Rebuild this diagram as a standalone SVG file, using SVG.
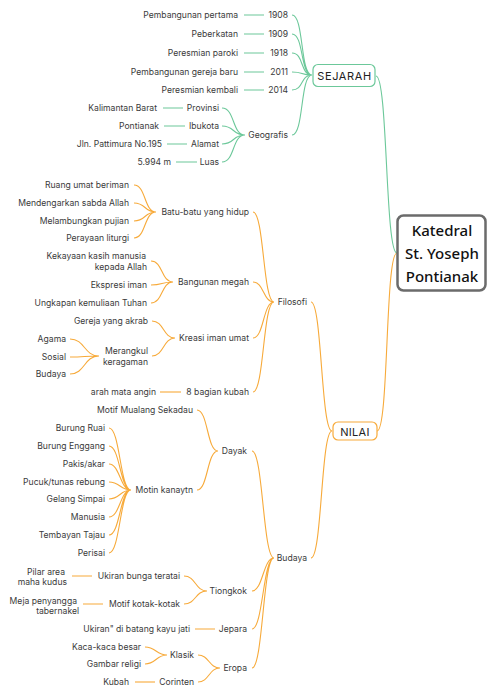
<svg xmlns="http://www.w3.org/2000/svg" width="487" height="691" viewBox="0 0 487 691">
<style>
text{font-family:Inter,"Noto Sans",sans-serif;font-size:8.6px;fill:#3a3a3a;dominant-baseline:central}
.l{text-anchor:end}
.g{fill:none;stroke:#6cc89a;stroke-width:1.1}
.o{fill:none;stroke:#f7aa3a;stroke-width:1.1}
.big{font-family:"Noto Sans",sans-serif;font-size:15px;font-weight:500;fill:#111;text-anchor:middle;dominant-baseline:auto}
.mid{font-size:11px;text-anchor:middle;fill:#222;letter-spacing:0.6px}
</style>
<rect width="487" height="691" fill="#fff"/>
<g id="connectors">
<path class="g" d="M376 76C388 76 385 253 397 253"/>
<path class="o" d="M377 431C389 431 385 253 397 253"/>
<path class="g" d="M292 15C304 15 300 75 312 75M292 34C304 34 300 75 312 75M292 53C304 53 300 75 312 75M292 72C304 72 300 75 312 75M292 90C304 90 300 75 312 75M292 135C304 135 300 75 312 75"/>
<path class="g" d="M244 15H264M244 34H264M244 53H264M244 72H264M244 90H264"/>
<path class="g" d="M222 108C235 108 232 135 245 135M222 126C235 126 232 135 245 135M222 144C235 144 232 135 245 135M222 162C235 162 232 135 245 135"/>
<path class="g" d="M163 108H183M164 126H185M167 144H187M176 162H197"/>
<path class="o" d="M311 302C322 302 321 431 332 431M311 558C322 558 321 431 332 431"/>
<path class="o" d="M253 212C264 212 263 302 274 302M253 282C264 282 263 302 274 302M253 338C264 338 263 302 274 302M253 392C264 392 263 302 274 302"/>
<path class="o" d="M134 185C146 185 144 212 156 212M134 203C146 203 144 212 156 212M134 221C146 221 144 212 156 212M134 238C146 238 144 212 156 212"/>
<path class="o" d="M151 261C163 261 161 282 173 282M151 285C163 285 161 282 173 282M151 303C163 303 161 282 173 282"/>
<path class="o" d="M152 321C164 321 163 338 175 338M152 356C164 356 163 338 175 338"/>
<path class="o" d="M70 339C85 339 84 356 99 356M70 357C85 357 84 356 99 356M70 374C85 374 84 356 99 356"/>
<path class="o" d="M160 392H181"/>
<path class="o" d="M252 451C263 451 263 558 274 558M252 591C263 591 263 558 274 558M252 629C263 629 263 558 274 558M252 668C263 668 263 558 274 558"/>
<path class="o" d="M197 410C208 410 207 451 218 451M197 490C208 490 207 451 218 451"/>
<path class="o" d="M109 428C120 428 120 490 131 490M109 446C120 446 120 490 131 490M109 464C120 464 120 490 131 490M109 482C120 482 120 490 131 490M109 499C120 499 120 490 131 490M109 517C120 517 120 490 131 490M109 535C120 535 120 490 131 490M109 553C120 553 120 490 131 490"/>
<path class="o" d="M184 576C196 576 195 591 207 591M184 604C196 604 195 591 207 591"/>
<path class="o" d="M72 576H92M83 604H103M195 629H215"/>
<path class="o" d="M198 655C209 655 209 668 220 668M198 682C209 682 209 668 220 668"/>
<path class="o" d="M145 647C156 647 156 655 167 655M145 664C156 664 156 655 167 655"/>
<path class="o" d="M135 682H155"/>
</g>
<g id="central"><rect x="397.5" y="215.5" width="88" height="75" rx="6" fill="#fff" stroke="#6b6b6b" stroke-width="2.5"/><text class="big" x="442" y="236">Katedral</text><text class="big" x="442" y="259">St. Yoseph</text><text class="big" x="442" y="282">Pontianak</text></g>
<g id="sejarah"><rect x="313" y="64.5" width="62" height="22" rx="5" fill="#fff" stroke="#6cc89a" stroke-width="1.2"/><text class="mid" x="344.5" y="76">SEJARAH</text></g>
<g id="nilai"><rect x="333" y="422" width="44" height="18" rx="5" fill="#fff" stroke="#f7aa3a" stroke-width="1.2"/><text class="mid" x="355" y="431.5" style="letter-spacing:0.3px">NILAI</text></g>
<g id="n1908"><text class="l" x="288" y="15">1908</text></g>
<g id="n1909"><text class="l" x="288" y="34">1909</text></g>
<g id="n1918"><text class="l" x="288" y="53">1918</text></g>
<g id="n2011"><text class="l" x="288" y="72">2011</text></g>
<g id="n2014"><text class="l" x="288" y="90">2014</text></g>
<g id="geografis"><text class="l" x="288" y="135">Geografis</text></g>
<g id="pembangunan-pertama"><text class="l" x="238" y="15">Pembangunan pertama</text></g>
<g id="peberkatan"><text class="l" x="238" y="34">Peberkatan</text></g>
<g id="peresmian-paroki"><text class="l" x="238" y="53">Peresmian paroki</text></g>
<g id="pembangunan-gereja"><text class="l" x="238" y="72">Pembangunan gereja baru</text></g>
<g id="peresmian-kembali"><text class="l" x="238" y="90">Peresmian kembali</text></g>
<g id="provinsi"><text class="l" x="219" y="108">Provinsi</text></g>
<g id="ibukota"><text class="l" x="219" y="126">Ibukota</text></g>
<g id="alamat"><text class="l" x="219" y="144">Alamat</text></g>
<g id="luas"><text class="l" x="219" y="162">Luas</text></g>
<g id="kalbar"><text class="l" x="157" y="108">Kalimantan Barat</text></g>
<g id="pontianak"><text class="l" x="159" y="126">Pontianak</text></g>
<g id="jln"><text class="l" x="162" y="144">Jln. Pattimura No.195</text></g>
<g id="luas-val"><text class="l" x="171" y="162">5.994 m</text></g>
<g id="filosofi"><text class="l" x="307" y="302">Filosofi</text></g>
<g id="budaya"><text class="l" x="307" y="558">Budaya</text></g>
<g id="batu"><text class="l" x="249" y="212">Batu-batu yang hidup</text></g>
<g id="ruang"><text class="l" x="129" y="185">Ruang umat beriman</text></g>
<g id="mendengarkan"><text class="l" x="129" y="203">Mendengarkan sabda Allah</text></g>
<g id="melambungkan"><text class="l" x="129" y="221">Melambungkan pujian</text></g>
<g id="perayaan"><text class="l" x="129" y="238">Perayaan liturgi</text></g>
<g id="bangunan"><text class="l" x="249" y="282">Bangunan megah</text></g>
<g id="kekayaan"><text class="l" x="146" y="256">Kekayaan kasih manusia</text><text class="l" x="147" y="267">kepada Allah</text></g>
<g id="ekspresi"><text class="l" x="147" y="285">Ekspresi iman</text></g>
<g id="ungkapan"><text class="l" x="147" y="303">Ungkapan kemuliaan Tuhan</text></g>
<g id="kreasi"><text class="l" x="249" y="338">Kreasi iman umat</text></g>
<g id="gereja"><text class="l" x="148" y="321">Gereja yang akrab</text></g>
<g id="merangkul"><text class="l" x="148" y="351">Merangkul</text><text class="l" x="148" y="362">keragaman</text></g>
<g id="agama"><text class="l" x="66" y="339">Agama</text></g>
<g id="sosial"><text class="l" x="66" y="357">Sosial</text></g>
<g id="budaya2"><text class="l" x="66" y="374">Budaya</text></g>
<g id="bagian"><text class="l" x="249" y="392">8 bagian kubah</text></g>
<g id="arah"><text class="l" x="156" y="392">arah mata angin</text></g>
<g id="dayak"><text class="l" x="247" y="451">Dayak</text></g>
<g id="mualang"><text class="l" x="193" y="410">Motif Mualang Sekadau</text></g>
<g id="motin"><text class="l" x="193" y="490">Motin kanaytn</text></g>
<g id="ruai"><text class="l" x="105" y="428">Burung Ruai</text></g>
<g id="enggang"><text class="l" x="105" y="446">Burung Enggang</text></g>
<g id="pakis"><text class="l" x="105" y="464">Pakis/akar</text></g>
<g id="pucuk"><text class="l" x="105" y="482">Pucuk/tunas rebung</text></g>
<g id="gelang"><text class="l" x="105" y="499">Gelang Simpai</text></g>
<g id="manusia"><text class="l" x="105" y="517">Manusia</text></g>
<g id="tembayan"><text class="l" x="105" y="535">Tembayan Tajau</text></g>
<g id="perisai"><text class="l" x="105" y="553">Perisai</text></g>
<g id="tiongkok"><text class="l" x="247" y="591">Tiongkok</text></g>
<g id="ukiran-bunga"><text class="l" x="180" y="576">Ukiran bunga teratai</text></g>
<g id="motif-kotak"><text class="l" x="180" y="604">Motif kotak-kotak</text></g>
<g id="pilar"><text class="l" x="65" y="572">Pilar area</text><text class="l" x="67" y="582">maha kudus</text></g>
<g id="meja"><text class="l" x="77" y="601">Meja penyangga</text><text class="l" x="79" y="611">tabernakel</text></g>
<g id="jepara"><text class="l" x="247" y="629">Jepara</text></g>
<g id="ukiran-kayu"><text class="l" x="190" y="629">Ukiran" di batang kayu jati</text></g>
<g id="eropa"><text class="l" x="247" y="668">Eropa</text></g>
<g id="klasik"><text class="l" x="194" y="655">Klasik</text></g>
<g id="corinten"><text class="l" x="194" y="682">Corinten</text></g>
<g id="kaca"><text class="l" x="141" y="647">Kaca-kaca besar</text></g>
<g id="gambar"><text class="l" x="141" y="664">Gambar religi</text></g>
<g id="kubah"><text class="l" x="129" y="682">Kubah</text></g>
</svg>
